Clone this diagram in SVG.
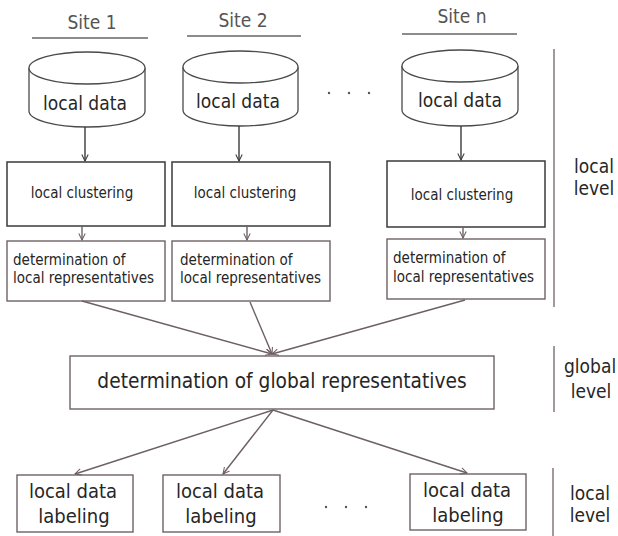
<svg xmlns="http://www.w3.org/2000/svg" width="618" height="536" viewBox="0 0 618 536">
<style>
text{font-family:"DejaVu Sans Condensed","DejaVu Sans","Liberation Sans",sans-serif;fill:#262626}
.site{font-size:19px;fill:#555;text-anchor:middle}
.big{font-size:19px;text-anchor:middle}
.lab{font-size:20px;text-anchor:middle}
.mid{font-size:15px;text-anchor:middle}
.sm{font-size:15px}
.cyl{fill:#fff;stroke:#4a4a4a;stroke-width:1.3}
.cl{fill:#fff;stroke:#3a3a3a;stroke-width:1.5}
.rep{fill:#fff;stroke:#6e6267;stroke-width:1.4}
.ul{stroke:#666;stroke-width:1.4}
.vl{stroke:#7a6e72;stroke-width:1.4}
.dot{fill:#555}
.con line{stroke:#6d6064;stroke-width:1.4;marker-end:url(#ah)}
.con .dk{stroke:#3a3a3a}
</style>
<defs>
<marker id="ah" viewBox="0 0 10 10" refX="9" refY="5" markerWidth="8" markerHeight="8" markerUnits="userSpaceOnUse" orient="auto">
<path d="M1,1 L9,5 L1,9" fill="none" stroke="context-stroke" stroke-width="1.3"/>
</marker>
</defs>

<g id="site1">
<text class="site" x="92" y="29">Site 1</text>
<line class="ul" x1="32" y1="38" x2="148" y2="38"/>
</g>
<g id="site2">
<text class="site" x="243" y="27">Site 2</text>
<line class="ul" x1="187" y1="36" x2="301" y2="36"/>
</g>
<g id="siten">
<text class="site" x="462" y="23">Site n</text>
<line class="ul" x1="402" y1="34" x2="517" y2="34"/>
</g>

<g id="data1">
<path class="cyl" d="M29,68 L29,111 A58,16 0 0 0 145,111 L145,68"/>
<ellipse class="cyl" cx="87" cy="68" rx="58" ry="16"/>
<text class="big" x="85" y="110">local data</text>
</g>
<g id="data2">
<path class="cyl" d="M183,67 L183,110 A57.5,16 0 0 0 298,110 L298,67"/>
<ellipse class="cyl" cx="240.5" cy="67" rx="57.5" ry="16"/>
<text class="big" x="238" y="108">local data</text>
</g>
<g id="datan">
<path class="cyl" d="M402,66 L402,110 A58,16 0 0 0 518,110 L518,66"/>
<ellipse class="cyl" cx="460" cy="66" rx="58" ry="16"/>
<text class="big" x="460" y="107">local data</text>
</g>

<g id="dots-top">
<circle class="dot" cx="329" cy="93" r="1.2"/>
<circle class="dot" cx="349" cy="93" r="1.2"/>
<circle class="dot" cx="369" cy="93" r="1.2"/>
</g>

<g id="clust1">
<rect class="cl" x="7" y="162" width="158" height="64"/>
<text class="mid" x="82" y="198">local clustering</text>
</g>
<g id="clust2">
<rect class="cl" x="172" y="162" width="158" height="64"/>
<text class="mid" x="245" y="198">local clustering</text>
</g>
<g id="clustn">
<rect class="cl" x="387" y="161" width="158" height="66"/>
<text class="mid" x="462" y="200">local clustering</text>
</g>

<g id="rep1">
<rect class="rep" x="7" y="241" width="158" height="60"/>
<text class="sm" x="13" y="265">determination of</text>
<text class="sm" x="13" y="283">local representatives</text>
</g>
<g id="rep2">
<rect class="rep" x="172" y="241" width="158" height="60"/>
<text class="sm" x="180" y="265">determination of</text>
<text class="sm" x="180" y="283">local representatives</text>
</g>
<g id="repn">
<rect class="rep" x="387" y="239" width="158" height="60"/>
<text class="sm" x="393" y="263">determination of</text>
<text class="sm" x="393" y="282">local representatives</text>
</g>

<g id="global">
<rect class="rep" x="70" y="356" width="424" height="53"/>
<text class="big" x="282" y="388" style="font-size:20.7px">determination of global representatives</text>
</g>

<g id="label1">
<rect class="rep" x="17" y="475" width="116" height="57"/>
<text class="lab" x="73" y="498">local data</text>
<text class="lab" x="74" y="523">labeling</text>
</g>
<g id="label2">
<rect class="rep" x="163" y="475" width="117" height="57"/>
<text class="lab" x="220" y="498">local data</text>
<text class="lab" x="221" y="523">labeling</text>
</g>
<g id="labeln">
<rect class="rep" x="410" y="474" width="116" height="56"/>
<text class="lab" x="467" y="497">local data</text>
<text class="lab" x="468" y="522">labeling</text>
</g>

<g id="dots-bottom">
<circle class="dot" cx="326" cy="507" r="1.2"/>
<circle class="dot" cx="346" cy="507" r="1.2"/>
<circle class="dot" cx="366" cy="507" r="1.2"/>
</g>

<g id="level-local-top">
<line class="vl" x1="554" y1="49" x2="554" y2="307"/>
<text class="big" x="594" y="173">local</text>
<text class="big" x="594" y="195">level</text>
</g>
<g id="level-global">
<line class="vl" x1="554" y1="346" x2="554" y2="412"/>
<text class="big" x="564" y="373" style="text-anchor:start">global</text>
<text class="big" x="591" y="398">level</text>
</g>
<g id="level-local-bottom">
<line class="vl" x1="553" y1="468" x2="553" y2="536"/>
<text class="big" x="590" y="500">local</text>
<text class="big" x="590" y="522">level</text>
</g>

<g id="connectors" class="con">
<line class="dk" x1="85" y1="127" x2="85" y2="161"/>
<line class="dk" x1="239" y1="126" x2="239" y2="161"/>
<line class="dk" x1="461" y1="126" x2="461" y2="160"/>
<line x1="82" y1="226" x2="82" y2="240"/>
<line x1="247" y1="226" x2="247" y2="240"/>
<line x1="463" y1="227" x2="463" y2="238"/>
<line x1="82" y1="301" x2="272" y2="354"/>
<line x1="250" y1="302" x2="272" y2="354"/>
<line x1="465" y1="300" x2="272" y2="354"/>
<line x1="273" y1="410" x2="75" y2="474"/>
<line x1="273" y1="410" x2="223" y2="474"/>
<line x1="273" y1="410" x2="467" y2="473"/>
</g>
</svg>
